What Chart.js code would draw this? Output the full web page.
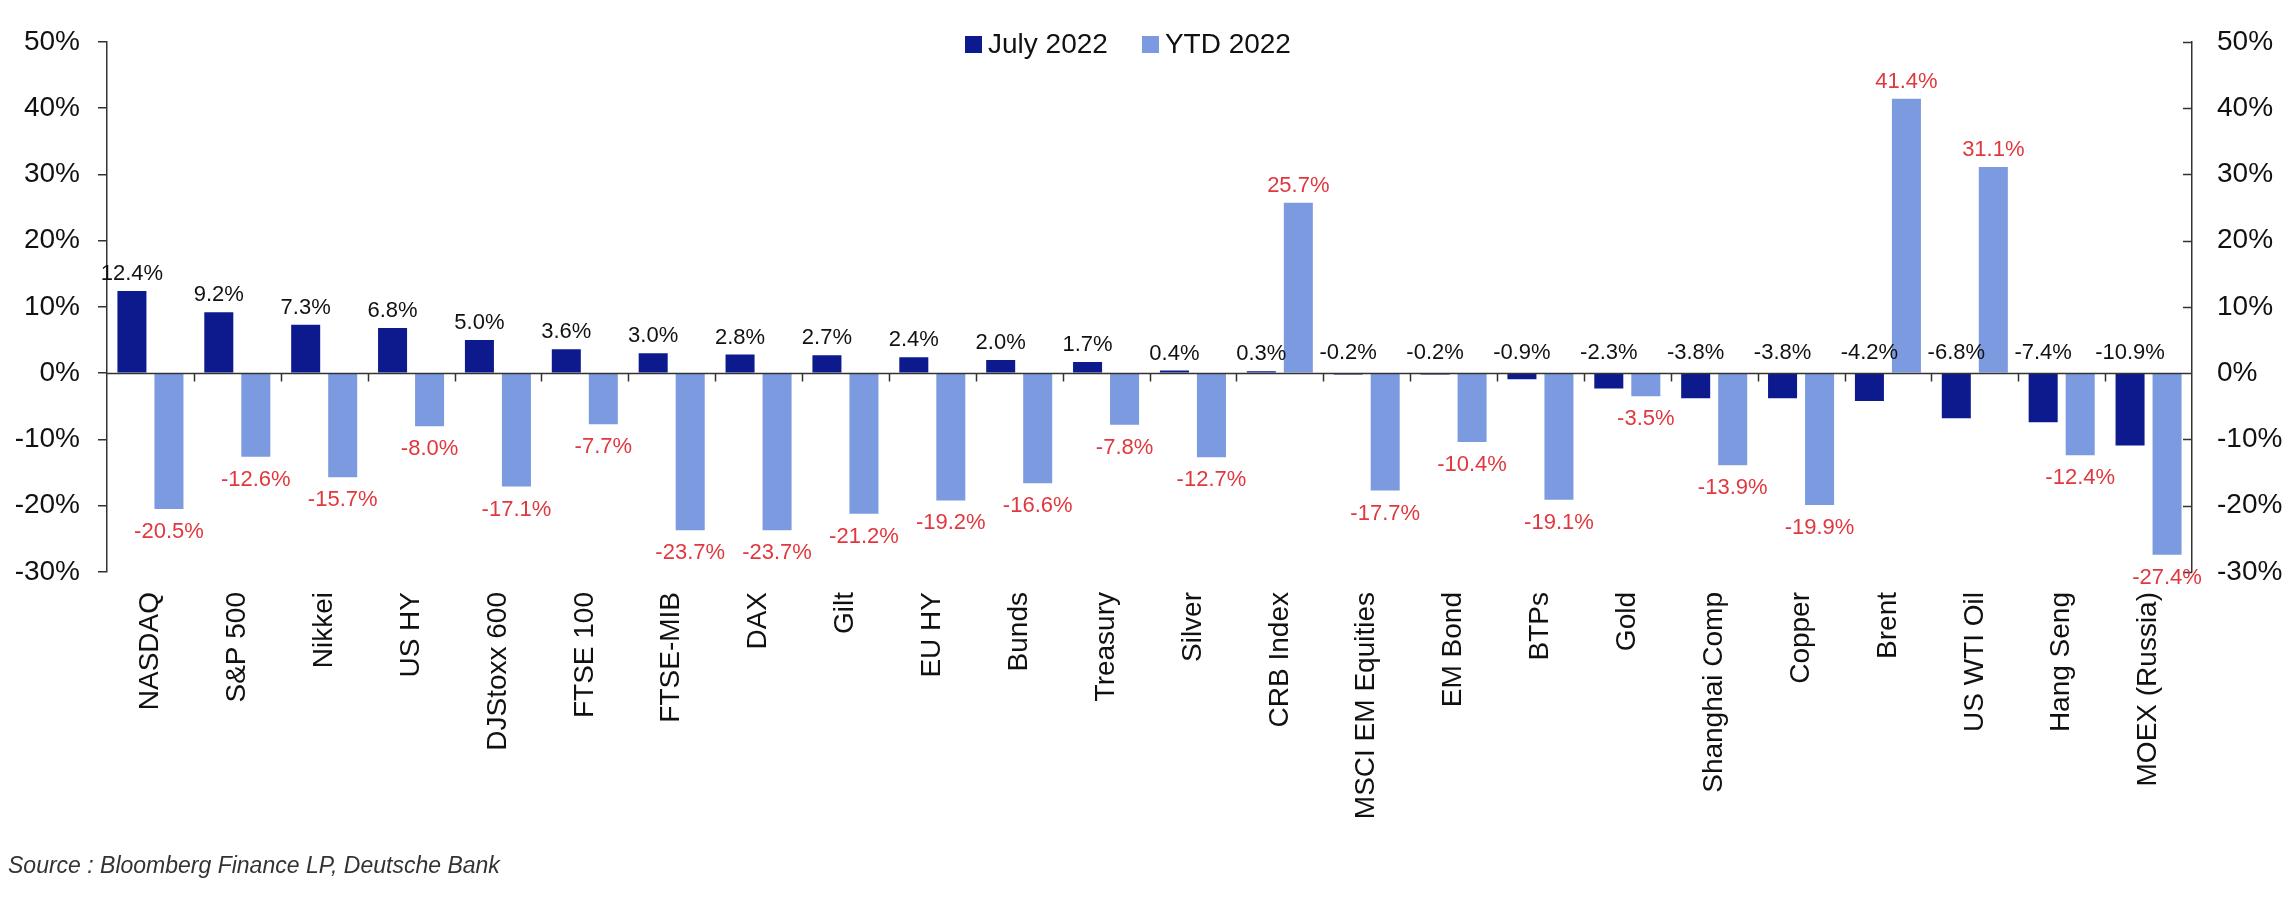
<!DOCTYPE html>
<html>
<head>
<meta charset="utf-8">
<script src="https://cdn.jsdelivr.net/npm/chart.js@4.4.1/dist/chart.umd.min.js"></script>
<style>
  html, body { margin: 0; padding: 0; background: #fff; }
  #wrap { position: relative; width: 2290px; height: 900px; font-family: "Liberation Sans", Arial, sans-serif; }
  #chart { position: absolute; left: 0; top: 0; }
  .legend { position: absolute; top: 28px; left: 965px; display: flex; align-items: center; font-size: 28px; color: #111; line-height: 32px; }
  .legend .sw { width: 17px; height: 17px; display: inline-block; margin-right: 6px; }
  .legend .item { display: flex; align-items: center; margin-right: 34px; }
  .source { position: absolute; left: 8px; top: 852px; font-size: 23px; font-style: italic; color: #333; }
</style>
</head>
<body>
<div id="wrap">
  <canvas id="chart" width="2290" height="900"></canvas>
  <div class="legend">
    <span class="item"><span class="sw" style="background:#0c1a8e"></span>July 2022</span>
    <span class="item"><span class="sw" style="background:#7b9ae0"></span>YTD 2022</span>
  </div>
  <div class="source">Source : Bloomberg Finance LP, Deutsche Bank</div>
</div>
<script>
// Data
const categories = ['NASDAQ', 'S&P 500', 'Nikkei', 'US HY', 'DJStoxx 600', 'FTSE 100', 'FTSE-MIB', 'DAX',
  'Gilt', 'EU HY', 'Bunds', 'Treasury', 'Silver', 'CRB Index', 'MSCI EM Equities', 'EM Bond', 'BTPs',
  'Gold', 'Shanghai Comp', 'Copper', 'Brent', 'US WTI Oil', 'Hang Seng', 'MOEX (Russia)'];
const july2022 = [12.4, 9.2, 7.3, 6.8, 5.0, 3.6, 3.0, 2.8, 2.7, 2.4, 2.0, 1.7, 0.4, 0.3, -0.2, -0.2, -0.9,
  -2.3, -3.8, -3.8, -4.2, -6.8, -7.4, -10.9];
const ytd2022 = [-20.5, -12.6, -15.7, -8.0, -17.1, -7.7, -23.7, -23.7, -21.2, -19.2, -16.6, -7.8, -12.7,
  25.7, -17.7, -10.4, -19.1, -3.5, -13.9, -19.9, 41.4, 31.1, -12.4, -27.4];
const yMin = -30;
const yMax = 50;
const yStep = 10;

const FONT = '"Liberation Sans", Arial, sans-serif';
const DARK = '#0c1a8e';
const LIGHT = '#7b9ae0';
const RED = '#e0383e';
const AXIS = '#333';

// zero line, category ticks, inward ticks on right axis, value labels
const overlayPlugin = {
  id: 'overlay',
  afterDatasetsDraw(chart) {
    const ctx = chart.ctx;
    const x = chart.scales.x;
    const y = chart.scales.y;
    const area = chart.chartArea;
    const y0 = Math.round(y.getPixelForValue(0)) + 0.5;
    ctx.save();
    ctx.strokeStyle = AXIS;
    ctx.lineWidth = 1.5;
    ctx.beginPath();
    ctx.moveTo(area.left, y0);
    ctx.lineTo(area.right, y0);
    for (let i = 1; i < categories.length; i++) {
      const bx = Math.round((x.getPixelForValue(i - 1) + x.getPixelForValue(i)) / 2) + 0.5;
      ctx.moveTo(bx, y0);
      ctx.lineTo(bx, y0 + 8);
    }
    // right axis ticks point inward
    chart.scales.y2.ticks.forEach((t) => {
      const ty = Math.round(y.getPixelForValue(t.value)) + 0.5;
      ctx.moveTo(area.right - 9, ty);
      ctx.lineTo(area.right, ty);
    });
    ctx.stroke();

    ctx.font = '22px ' + FONT;
    ctx.textAlign = 'center';
    chart.data.datasets.forEach((ds, di) => {
      const meta = chart.getDatasetMeta(di);
      meta.data.forEach((bar, i) => {
        const v = ds.data[i];
        const txt = v.toFixed(1) + '%';
        if (di === 0) {
          ctx.fillStyle = '#111';
          ctx.textBaseline = 'bottom';
          const ty = v >= 0 ? bar.y - 6 : y0 - 10;
          ctx.fillText(txt, bar.x, ty);
        } else {
          ctx.fillStyle = RED;
          if (v >= 0) {
            ctx.textBaseline = 'bottom';
            ctx.fillText(txt, bar.x, bar.y - 6);
          } else {
            ctx.textBaseline = 'top';
            ctx.fillText(txt, bar.x, bar.y + 12);
          }
        }
      });
    });
    ctx.restore();
  }
};

function yAxis(position, width) {
  return {
    type: 'linear',
    position: position,
    min: yMin,
    max: yMax,
    ticks: {
      stepSize: yStep,
      color: '#111',
      font: { family: FONT, size: 28 },
      padding: position === 'left' ? 18 : 25,
      callback: (v) => v + '%'
    },
    grid: {
      drawOnChartArea: false,
      drawTicks: position === 'left',
      tickLength: 9,
      color: AXIS,
      lineWidth: 1.5
    },
    border: { display: true, color: AXIS, width: 1.5 },
    afterFit: (scale) => { scale.width = width; }
  };
}

new Chart(document.getElementById('chart'), {
  type: 'bar',
  data: {
    labels: categories,
    datasets: [
      { label: 'July 2022', data: july2022, backgroundColor: DARK, yAxisID: 'y' },
      { label: 'YTD 2022', data: ytd2022, backgroundColor: LIGHT, yAxisID: 'y' }
    ]
  },
  options: {
    responsive: false,
    animation: false,
    devicePixelRatio: 1,
    categoryPercentage: 0.852,
    barPercentage: 0.784,
    layout: { padding: { top: 28, left: 0, right: 0, bottom: 0 } },
    plugins: {
      legend: { display: false },
      tooltip: { enabled: false }
    },
    scales: {
      x: {
        grid: { display: false, drawTicks: false },
        border: { display: false },
        ticks: {
          autoSkip: false,
          minRotation: 90,
          maxRotation: 90,
          padding: 20,
          color: '#111',
          font: { family: FONT, size: 28 }
        },
        afterFit: (scale) => { scale.height = 328; }
      },
      y: yAxis('left', 107),
      y2: yAxis('right', 98)
    }
  },
  plugins: [overlayPlugin]
});
</script>
</body>
</html>
